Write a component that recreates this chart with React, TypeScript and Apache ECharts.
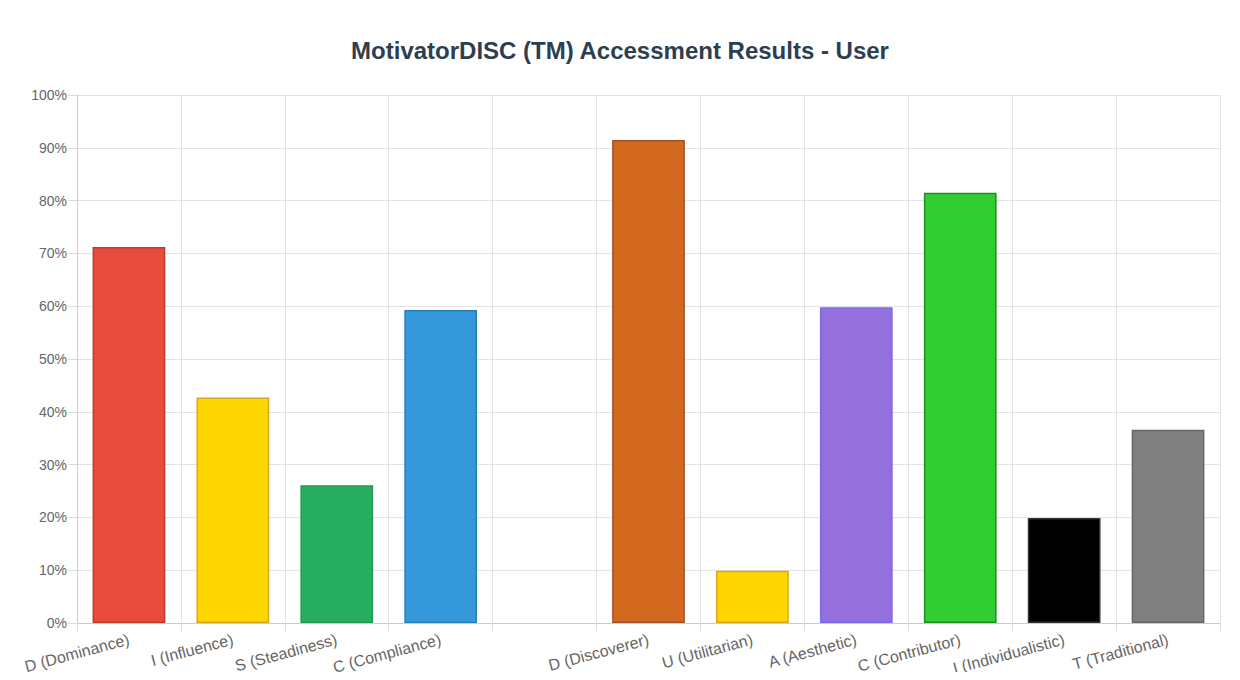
import React, { useEffect, useRef } from "react";
import * as echarts from "echarts";

const categories = [
  "D (Dominance)",
  "I (Influence)",
  "S (Steadiness)",
  "C (Compliance)",
  "",
  "D (Discoverer)",
  "U (Utilitarian)",
  "A (Aesthetic)",
  "C (Contributor)",
  "I (Individualistic)",
  "T (Traditional)",
];
const values: (number | null)[] = [71.2, 42.7, 26.1, 59.3, null, 91.5, 9.9, 59.8, 81.5, 19.9, 36.6];
const fillColors = [
  "#e74c3c", "#ffd700", "#27ae60", "#3498db", "#ffffff",
  "#d2691e", "#ffd700", "#9370db", "#32cd32", "#000000", "#808080",
];
const borderColors = [
  "#c0392b", "#daa520", "#229954", "#2980b9", "#ffffff",
  "#a0522d", "#daa520", "#7b68ee", "#228b22", "#333333", "#666666",
];
const yTicks = [0, 10, 20, 30, 40, 50, 60, 70, 80, 90, 100];

export default function App() {
  const ref = useRef<HTMLDivElement>(null);
  useEffect(() => {
    if (!ref.current) return;
    const chart = echarts.init(ref.current, null, { renderer: "svg" });
    chart.setOption({
      animation: false,
      backgroundColor: "#ffffff",
      title: {
        text: "MotivatorDISC (TM) Accessment Results - User",
        left: "center",
        top: 33,
        textStyle: {
          fontFamily: "Liberation Sans, Arial, sans-serif",
          fontSize: 24,
          fontWeight: "bold",
          color: "#2c3e50",
        },
      },
      grid: { left: 77, right: 20, top: 95, bottom: 57, containLabel: false },
      xAxis: {
        type: "category",
        data: categories,
        boundaryGap: true,
        axisLine: { show: true, lineStyle: { color: "#cccccc" } },
        axisTick: { show: true, length: 8, interval: 0, lineStyle: { color: "#dddddd" } },
        splitLine: { show: true, interval: 0, lineStyle: { color: "#e3e3e3" } },
        axisLabel: {
          interval: 0,
          rotate: 15,
          margin: 16,
          fontFamily: "Liberation Sans, Arial, sans-serif",
          fontSize: 16,
          color: "#666666",
        },
      },
      yAxis: {
        type: "value",
        min: yTicks[0],
        max: yTicks[yTicks.length - 1],
        interval: 10,
        axisLine: { show: true, lineStyle: { color: "#cccccc" } },
        axisTick: { show: true, length: 9, lineStyle: { color: "#dddddd" } },
        splitLine: { show: true, lineStyle: { color: "#e3e3e3" } },
        axisLabel: {
          formatter: "{value}%",
          margin: 10,
          fontFamily: "Liberation Sans, Arial, sans-serif",
          fontSize: 14,
          color: "#666666",
        },
      },
      series: [
        {
          type: "bar",
          barWidth: "70%",
          data: values.map((v, i) => ({
            value: v,
            itemStyle: {
              color: fillColors[i],
              borderColor: borderColors[i],
              borderWidth: 1.5,
            },
          })),
        },
      ],
    });
    return () => chart.dispose();
  }, []);
  return <div ref={ref} style={{ width: 1240, height: 680, margin: -8 }} />;
}
